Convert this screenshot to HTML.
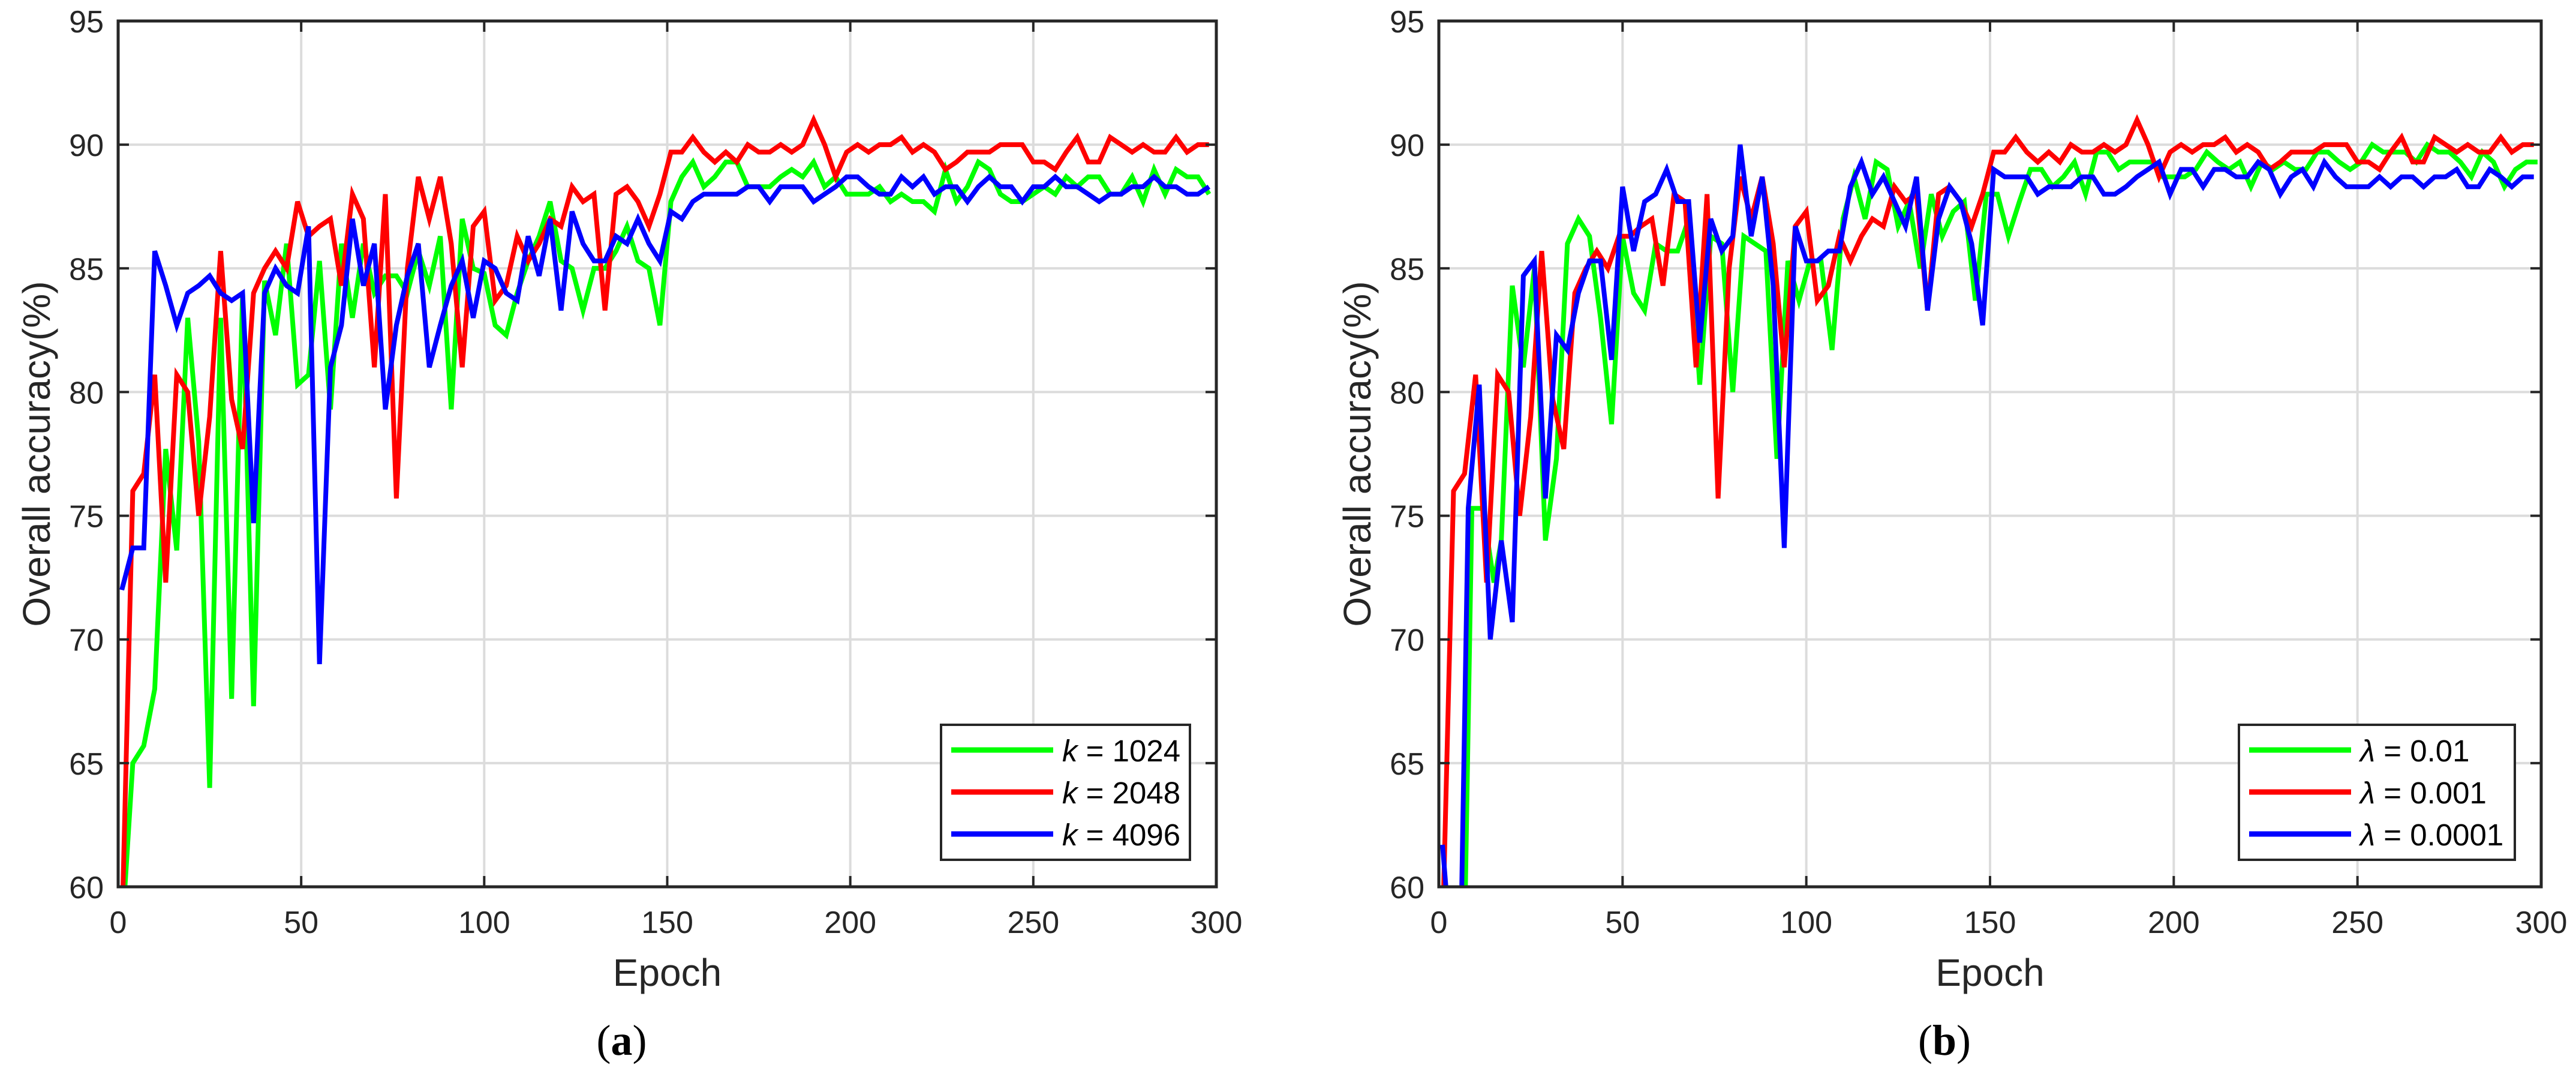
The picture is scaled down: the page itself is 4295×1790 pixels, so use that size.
<!DOCTYPE html>
<html><head><meta charset="utf-8"><style>
html,body{margin:0;padding:0;background:#fff;}
svg{display:block;font-family:"Liberation Sans",sans-serif;}
</style></head><body>
<svg id="fig" width="4295" height="1790" viewBox="0 0 4295 1790" xmlns="http://www.w3.org/2000/svg"></svg>
<script>
const xTicks=[0,50,100,150,200,250,300];
const yTicks=[60,65,70,75,80,85,90,95];
const epochsA=[1,4,7,10,13,16,19,22,25,28,31,34,37,40,43,46,49,52,55,58,61,64,67,70,73,76,79,82,85,88,91,94,97,100,103,106,109,112,115,118,121,124,127,130,133,136,139,142,145,148,151,154,157,160,163,166,169,172,175,178,181,184,187,190,193,196,199,202,205,208,211,214,217,220,223,226,229,232,235,238,241,244,247,250,253,256,259,262,265,268,271,274,277,280,283,286,289,292,295,298];
const greenA=[58,65,65.7,68,77.7,73.6,83,78,64,83,67.6,84,67.3,84.5,82.3,86,80.3,80.7,85.3,79.3,86,83,86,84,84.7,84.7,84,85.7,84.3,86.3,79.3,87,85,84.8,82.7,82.3,84,85.3,86.3,87.7,85.3,85,83.3,85,85,85.7,86.7,85.3,85,82.7,87.7,88.7,89.3,88.3,88.7,89.3,89.3,88.3,88.3,88.3,88.7,89,88.7,89.3,88.3,88.7,88,88,88,88.3,87.7,88,87.7,87.7,87.3,89,87.7,88.3,89.3,89,88,87.7,87.7,88,88.3,88,88.7,88.3,88.7,88.7,88,88,88.7,87.7,89,88,89,88.7,88.7,88];
const redA=[58,76,76.7,80.7,72.3,80.7,80,75,79,85.7,79.7,77.7,84,85,85.7,85,87.7,86.3,86.7,87,84.3,88,87,81,88,75.7,85,88.7,87,88.7,86,81,86.7,87.3,83.7,84.3,86.3,85.3,86,87,86.7,88.3,87.7,88,83.3,88,88.3,87.7,86.7,88,89.7,89.7,90.3,89.7,89.3,89.7,89.3,90,89.7,89.7,90,89.7,90,91,90,88.7,89.7,90,89.7,90,90,90.3,89.7,90,89.7,89,89.3,89.7,89.7,89.7,90,90,90,89.3,89.3,89,89.7,90.3,89.3,89.3,90.3,90,89.7,90,89.7,89.7,90.3,89.7,90,90];
const blueA=[72,73.7,73.7,85.7,84.3,82.7,84,84.3,84.7,84,83.7,84,74.7,84,85,84.3,84,86.7,69,81,82.7,87,84.3,86,79.3,82.7,84.7,86,81,82.7,84.3,85.3,83,85.3,85,84,83.7,86.3,84.7,87,83.3,87.3,86,85.3,85.3,86.3,86,87,86,85.3,87.3,87,87.7,88,88,88,88,88.3,88.3,87.7,88.3,88.3,88.3,87.7,88,88.3,88.7,88.7,88.3,88,88,88.7,88.3,88.7,88,88.3,88.3,87.7,88.3,88.7,88.3,88.3,87.7,88.3,88.3,88.7,88.3,88.3,88,87.7,88,88,88.3,88.3,88.7,88.3,88.3,88,88,88.3];
const epochsBg=[1,4,7,9,12,15,17,20,23,26,29,32,35,38,41,44,47,50,53,56,59,62,65,68,71,74,77,80,83,86,89,92,95,98,101,104,107,110,113,116,119,122,125,128,131,134,137,140,143,146,149,152,155,158,161,164,167,170,173,176,179,182,185,188,191,194,197,200,203,206,209,212,215,218,221,224,227,230,233,236,239,242,245,248,251,254,257,260,263,266,269,272,275,278,281,284,287,290,293,296,299];
const greenB=[58,55,58,75.3,75.3,72.3,74,84.3,81,85,74,77.3,86,87,86.3,83,78.7,86.3,84,83.3,86,85.7,85.7,87,80.3,86.3,86,80,86.3,86,85.7,77.3,85.3,83.7,85.3,85.3,81.7,87,88.7,87,89.3,89,86.7,87.7,85,88,86.3,87.3,87.7,83.7,88,88,86.3,87.7,89,89,88.3,88.7,89.3,88,89.7,89.7,89,89.3,89.3,89.3,88.7,88.7,88.7,89,89.7,89.3,89,89.3,88.3,89.3,89,89.3,89,89,89.7,89.7,89.3,89,89.3,90,89.7,89.7,89.7,89.3,90,89.7,89.7,89.3,88.7,89.7,89.3,88.3,89,89.3,89.3];
const epochsBr=epochsA;
const redB=[58,76,76.7,80.7,72.3,80.7,80,75,79,85.7,79.7,77.7,84,85,85.7,85,86.3,86.3,86.7,87,84.3,88,87.7,81,88,75.7,85,88.7,87,88.7,86,81,86.7,87.3,83.7,84.3,86.3,85.3,86.3,87,86.7,88.3,87.7,88,83.3,88,88.3,87.7,86.7,88,89.7,89.7,90.3,89.7,89.3,89.7,89.3,90,89.7,89.7,90,89.7,90,91,90,88.7,89.7,90,89.7,90,90,90.3,89.7,90,89.7,89,89.3,89.7,89.7,89.7,90,90,90,89.3,89.3,89,89.7,90.3,89.3,89.3,90.3,90,89.7,90,89.7,89.7,90.3,89.7,90,90];
const epochsBb=[1,3,6,8,11,14,17,20,23,26,29,32,35,38,41,44,47,50,53,56,59,62,65,68,71,74,77,80,82,85,88,91,94,97,100,103,106,109,112,115,118,121,124,127,130,133,136,139,142,145,148,151,154,157,160,163,166,169,172,175,178,181,184,187,190,193,196,199,202,205,208,211,214,217,220,223,226,229,232,235,238,241,244,247,250,253,256,259,262,265,268,271,274,277,280,283,286,289,292,295,298];
const blueB=[61.7,58,58,75.3,80.3,70,74,70.7,84.7,85.3,75.7,82.3,81.7,84,85.3,85.3,81.3,88.3,85.7,87.7,88,89,87.7,87.7,82,87,85.7,86.3,90,86.3,88.7,84.3,73.7,86.7,85.3,85.3,85.7,85.7,88.3,89.3,88,88.7,87.7,86.7,88.7,83.3,87,88.3,87.7,86,82.7,89,88.7,88.7,88.7,88,88.3,88.3,88.3,88.7,88.7,88,88,88.3,88.7,89,89.3,88,89,89,88.3,89,89,88.7,88.7,89.3,89,88,88.7,89,88.3,89.3,88.7,88.3,88.3,88.3,88.7,88.3,88.7,88.7,88.3,88.7,88.7,89,88.3,88.3,89,88.7,88.3,88.7,88.7];

const NS="http://www.w3.org/2000/svg";
const svg=document.getElementById('fig');
function mk(tag,attrs,parent){const e=document.createElementNS(NS,tag);for(const k in attrs)e.setAttribute(k,attrs[k]);(parent||svg).appendChild(e);return e;}

function panel(cfg){
  const L=cfg.x0,R=cfg.x1,T=35,B=1478;
  const sx=v=>L+(v-0)/300*(R-L);
  const sy=v=>B-(v-60)/35*(B-T);
  const g=mk('g',{});
  
  
  const clipId='clip'+cfg.id;
  const cp=mk('clipPath',{id:clipId},g);mk('rect',{x:L,y:T,width:R-L,height:B-T},cp);
  xTicks.forEach(t=>{const l=mk('line',{x1:sx(t),x2:sx(t),y1:T,y2:B,stroke:'#dcdcdc','stroke-width':4},g);
    });
  yTicks.forEach(t=>{const l=mk('line',{x1:L,x2:R,y1:sy(t),y2:sy(t),stroke:'#dcdcdc','stroke-width':4},g);
    });
  cfg.series.forEach(s=>{
    const pts=s.x.map((e,i)=>sx(e).toFixed(1)+','+sy(s.y[i]).toFixed(1)).join(' ');
    const p=mk('polyline',{points:pts,fill:'none',stroke:s.color,'stroke-width':8,'stroke-linejoin':'miter','clip-path':'url(#'+clipId+')'},g);
    
    
  });
  xTicks.forEach(t=>{
    mk('line',{x1:sx(t),x2:sx(t),y1:B,y2:B-18,stroke:'#262626','stroke-width':4},g);
    mk('line',{x1:sx(t),x2:sx(t),y1:T,y2:T+18,stroke:'#262626','stroke-width':4},g);
    const tx=mk('text',{x:sx(t),y:1555,'font-size':52,fill:'#262626','text-anchor':'middle'},g);tx.textContent=t;
    
  });
  yTicks.forEach(t=>{
    mk('line',{x1:L,x2:L+18,y1:sy(t),y2:sy(t),stroke:'#262626','stroke-width':4},g);
    mk('line',{x1:R,x2:R-18,y1:sy(t),y2:sy(t),stroke:'#262626','stroke-width':4},g);
    const tx=mk('text',{x:L-24,y:sy(t)+19,'font-size':52,fill:'#262626','text-anchor':'end'},g);tx.textContent=t;
    
  });
  const box=mk('rect',{x:L,y:T,width:R-L,height:B-T,fill:'none',stroke:'#262626','stroke-width':5},g);
  
  const xl=mk('text',{x:(L+R)/2,y:1643,'font-size':64,fill:'#262626','text-anchor':'middle'},g);xl.textContent='Epoch';
  
  const yl=mk('text',{x:0,y:0,'font-size':64,fill:'#262626','text-anchor':'middle',transform:'translate('+(L-114)+','+((T+B)/2)+') rotate(-90)'},g);yl.textContent='Overall accuracy(%)';
  
  const cap=mk('text',{x:(L+R)/2-76,y:1758,'font-size':72,fill:'#000','text-anchor':'middle','font-family':'"Liberation Serif",serif'},g);
  cap.innerHTML='(<tspan font-weight="bold">'+cfg.cap+'</tspan>)';
  
  const lg=mk('g',{},g);
  
  mk('rect',{x:cfg.lx,y:1208,width:cfg.lw,height:225,fill:'#fff',stroke:'#262626','stroke-width':4},lg);
  cfg.series.forEach((s,i)=>{
    const y=1250+i*70;
    const e=mk('g',{},lg);
    
    mk('line',{x1:cfg.lx+17,x2:cfg.lx+187,y1:y,y2:y,stroke:s.color,'stroke-width':9},e);
    const t=mk('text',{x:cfg.lx+202,y:y+19,'font-size':51,fill:'#000'},e);
    t.innerHTML='<tspan font-style="italic">'+cfg.sym+'</tspan> = '+s.label;
  });
}
panel({id:'a',name:'chart-a',x0:197,x1:2028,cap:'a',lx:1569,lw:415,sym:'k',series:[
  {x:epochsA,y:greenA,color:'#00ff00',name:'line-k1024',label:'1024'},
  {x:epochsA,y:redA,color:'#ff0000',name:'line-k2048',label:'2048'},
  {x:epochsA,y:blueA,color:'#0000ff',name:'line-k4096',label:'4096'}]});
panel({id:'b',name:'chart-b',x0:2399,x1:4237,cap:'b',lx:3733,lw:460,sym:'λ',series:[
  {x:epochsBg,y:greenB,color:'#00ff00',name:'line-lambda-0.01',label:'0.01'},
  {x:epochsBr,y:redB,color:'#ff0000',name:'line-lambda-0.001',label:'0.001'},
  {x:epochsBb,y:blueB,color:'#0000ff',name:'line-lambda-0.0001',label:'0.0001'}]});
</script>
</body></html>
